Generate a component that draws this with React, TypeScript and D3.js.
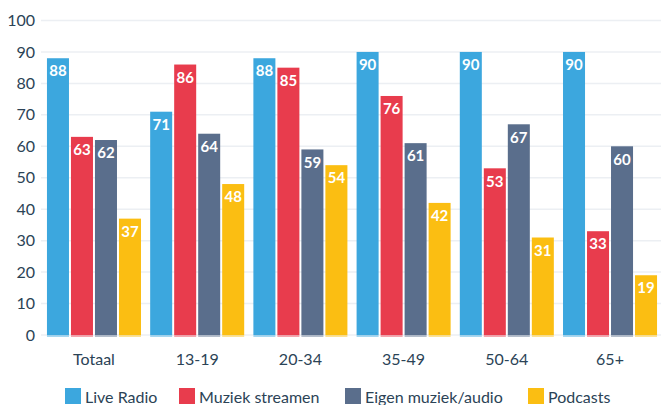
import React from "react";
import * as d3 from "d3";

const categories = ["Totaal", "13-19", "20-34", "35-49", "50-64", "65+"];
const seriesNames = ["Live Radio", "Muziek streamen", "Eigen muziek/audio", "Podcasts"];
const liveRadio = [88, 71, 88, 90, 90, 90];
const muziekStreamen = [63, 86, 85, 76, 53, 33];
const eigenMuziek = [62, 64, 59, 61, 67, 60];
const podcasts = [37, 48, 54, 42, 31, 19];
const yTicks = [0, 10, 20, 30, 40, 50, 60, 70, 80, 90, 100];
const colors = ["#3ca7de", "#e83c4d", "#5a6e8c", "#fbbe12"];

const series = [liveRadio, muziekStreamen, eigenMuziek, podcasts];

const W = 661;
const H = 405;
const FONT = "Lato, 'Noto Sans', sans-serif";

export default function App() {
  const x0 = d3.scaleBand<string>().domain(categories).range([41.8, 662.2]).paddingInner(0.089).paddingOuter(0.05);
  const x1 = d3.scaleBand<number>().domain(d3.range(series.length)).range([0, x0.bandwidth()]).paddingInner(0.083);
  const y = d3.scaleLinear().domain([0, 100]).range([335, 20.5]);
  const legendX = [65, 179, 345, 528];

  return (
    <svg width={W} height={H} style={{ position: "absolute", left: 0, top: 0, fontFamily: FONT }}>
      <rect width={W} height={H} fill="#ffffff" />
      {yTicks.map((t) => (
        <g key={t}>
          <line x1={41} x2={661} y1={y(t)} y2={y(t)} stroke="#eceff3" strokeWidth={1.5} />
          <text x={35} y={y(t)} dy="0.35em" textAnchor="end" fontSize={16} fill="#2b4356">
            {t}
          </text>
        </g>
      ))}
      {categories.map((c, ci) => (
        <g key={c} transform={`translate(${x0(c)},0)`}>
          {series.map((s, si) => {
            const v = s[ci];
            const bx = x1(si)!;
            const bw = x1.bandwidth();
            return (
              <g key={si}>
                <rect x={bx} y={y(v)} width={bw} height={y(0) - y(v)} fill={colors[si]} />
                <rect x={bx} y={y(0)} width={bw} height={2} fill={colors[si]} opacity={0.45} />
                <text
                  x={bx + bw / 2}
                  y={y(v) + 13}
                  dy="0.35em"
                  textAnchor="middle"
                  fontSize={15}
                  fontWeight={700}
                  fill="#ffffff"
                >
                  {v}
                </text>
              </g>
            );
          })}
          <text x={x0.bandwidth() / 2} y={359} dy="0.35em" textAnchor="middle" fontSize={16} fill="#2b4356">
            {c}
          </text>
        </g>
      ))}
      {seriesNames.map((n, i) => (
        <g key={n} transform={`translate(${legendX[i]},388)`}>
          <rect width={16} height={16} fill={colors[i]} />
          <text x={20} y={9} dy="0.35em" fontSize={16} fill="#2b4356">
            {n}
          </text>
        </g>
      ))}
    </svg>
  );
}
